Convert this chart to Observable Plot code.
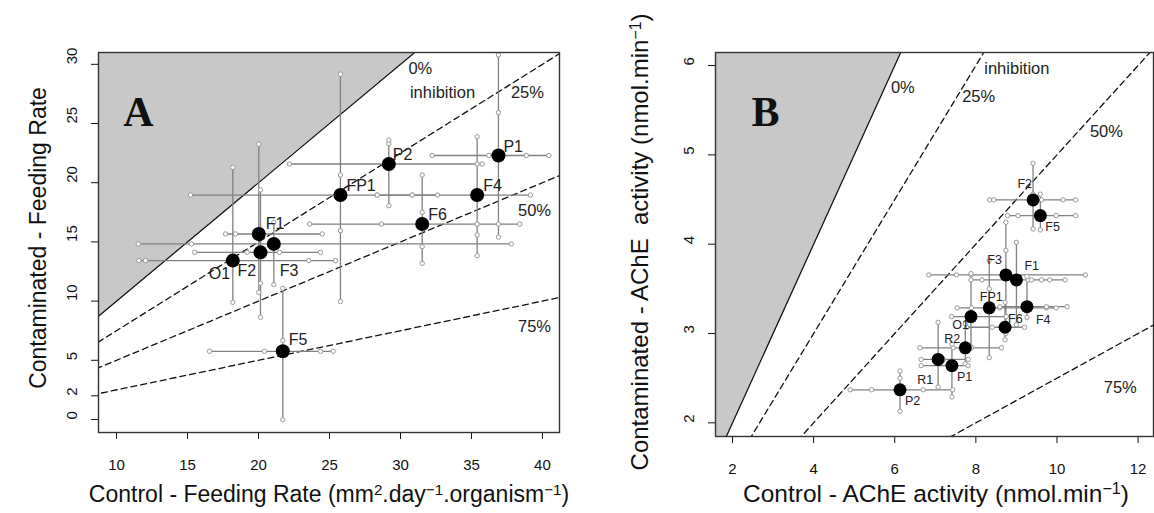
<!DOCTYPE html>
<html><head><meta charset="utf-8">
<script src="https://cdn.jsdelivr.net/npm/d3@7"></script>
<script src="https://cdn.jsdelivr.net/npm/@observablehq/plot@0.6"></script>
<style>
body{margin:0;background:#fff;}
#wrap{position:relative;width:1154px;height:513px;overflow:hidden;font-family:"Liberation Sans",Arial,sans-serif;color:#111;}
.panel{position:absolute;top:0;}
.t{position:absolute;white-space:nowrap;transform:translate(-50%,-50%);line-height:1;}
.t.rot{transform:translate(-50%,-50%) rotate(-90deg);}
sup{font-size:0.66em;vertical-align:0.45em;line-height:0;}
</style></head><body><div id="wrap"></div>
<script>
// ---------- Panel A : feeding rate ----------
const labelsA = ["P1","P2","FP1","F4","F6","F1","F3","F2","O1","F5"];
const controlA = [36.9, 29.18, 25.77, 35.4, 31.53, 20.02, 21.08, 20.14, 18.19, 21.71];
const contamA  = [22.3, 21.58, 18.96, 18.96, 16.51, 15.67, 14.83, 14.12, 13.42, 5.76];
const controlRepsA = [
  [32.23, 36.22, 38.87, 40.45],
  [22.18, 35.4, 35.75],
  [15.21, 28.36, 30.82, 32.6],
  [28.36, 30.82, 39.15],
  [23.6, 28.66, 35.4, 36.9, 38.4],
  [17.68, 18.38, 24.49],
  [11.53, 15.28, 37.8],
  [15.51, 19.2, 21.48, 24.37],
  [11.57, 12.04, 23.54, 25.42],
  [16.55, 20.42, 24.37, 25.26]
];
const contamRepsA = [
  [15.4, 25.93, 30.8],
  [18.06, 23.3, 23.6],
  [9.96, 15.95, 20.65, 29.17],
  [13.84, 15.58, 16.5, 23.88],
  [13.19, 14.6, 17.5, 20.65],
  [10.74, 23.26],
  [11.39, 16.65],
  [8.63, 11.5, 19.4],
  [9.9, 21.3],
  [-0.03, 6.67, 11.08]
];
const xTicksA = [10, 15, 20, 25, 30, 35, 40];
const yTicksA = [0, 2, 5, 10, 15, 20, 25, 30];
const notesA = [
  {text: "0%", x: 31.4, y: 29.6},
  {text: "inhibition", x: 32.96, y: 27.6},
  {text: "25%", x: 38.94, y: 27.6},
  {text: "50%", x: 39.44, y: 17.64},
  {text: "75%", x: 39.44, y: 7.85}
];

// ---------- Panel B : AChE activity ----------
const labelsB = ["F2","F5","F3","F1","FP1","F4","O1","F6","R2","R1","P1","P2"];
const controlB = [9.41, 9.59, 8.74, 9.0, 8.33, 9.26, 7.88, 8.72, 7.74, 7.07, 7.41, 6.13];
const contamB  = [4.496, 4.32, 3.656, 3.6, 3.287, 3.30, 3.19, 3.07, 2.84, 2.71, 2.64, 2.37];
const controlRepsB = [
  [8.34, 8.44, 9.62, 10.15, 10.46],
  [8.78, 9.04, 9.98, 10.46],
  [6.84, 7.52, 7.88, 10.7],
  [7.88, 8.15, 9.29, 9.37, 9.62, 9.82, 10.2],
  [7.54, 7.89, 8.59, 9.74, 9.98],
  [8.59, 9.74, 10.25],
  [7.4, 8.75],
  [7.77, 8.4, 9.2],
  [6.62, 7.44, 7.89, 8.63],
  [6.65, 7.2, 7.81],
  [6.65, 7.81],
  [4.90, 5.43, 6.70, 7.43]
];
const contamRepsB = [
  [4.171, 4.56, 4.906],
  [4.16, 4.56],
  [3.0, 3.93, 4.245],
  [3.1, 4.02],
  [2.73, 3.5, 3.82],
  [3.18, 3.64],
  [2.85, 3.67],
  [2.93, 3.35],
  [2.66, 3.11],
  [2.40, 3.125],
  [2.29, 2.88],
  [2.13, 2.5, 2.58]
];
const xTicksB = [2, 4, 6, 8, 10, 12];
const yTicksB = [2, 3, 4, 5, 6];
const notesB = [
  {text: "0%", x: 6.2, y: 5.754},
  {text: "inhibition", x: 9.01, y: 5.966},
  {text: "25%", x: 8.07, y: 5.65},
  {text: "50%", x: 11.22, y: 5.26},
  {text: "75%", x: 11.56, y: 2.394}
];

const inhibitionLevels = [0, 0.25, 0.5, 0.75];

// label placement (pixel offsets, anchor) — presentation only
const placeA = {
  P1:[5,-9,"start"], P2:[4,-9,"start"], FP1:[6,-9,"start"], F4:[6,-9,"start"], F6:[6,-9,"start"],
  F1:[7,-10,"start"], F3:[6,27,"start"], F2:[-23,19,"start"], O1:[-24,13,"start"], F5:[6,-11,"start"]
};
const placeB = {
  F2:[-1,-16,"end"], F5:[5,11,"start"], F3:[-4,-15,"end"], F1:[8,-14,"start"], FP1:[2,-11,"middle"],
  F4:[9,13,"start"], O1:[-2,8,"end"], F6:[3,-8,"start"], R2:[-5,-9,"end"], R1:[-5,21,"end"],
  P1:[5,11,"start"], P2:[5,11,"start"]
};

function buildPanel(cfg) {
  const pts = cfg.labels.map((l, i) => ({label: l, x: cfg.control[i], y: cfg.contam[i], xr: cfg.controlReps[i], yr: cfg.contamReps[i]}));
  const hbars = pts.map(p => ({y: p.y, x1: d3.min(p.xr), x2: d3.max(p.xr)}));
  const vbars = pts.map(p => ({x: p.x, y1: d3.min(p.yr), y2: d3.max(p.yr)}));
  const reps = pts.flatMap(p => [...p.xr.map(v => ({x: v, y: p.y})), ...p.yr.map(v => ({x: p.x, y: v}))]);
  const span = [-100, 1000];
  const marks = [
    Plot.areaY(span, {x: d => d, y1: d => d, y2: () => 1000, fill: "#c8c8c8", clip: true}),
    ...inhibitionLevels.map(p => Plot.line(span, {x: d => d, y: d => d * (1 - p), stroke: "#111", strokeWidth: 1.3,
        strokeDasharray: p === 0 ? null : "6,4", clip: true})),
    Plot.ruleY(hbars, {y: "y", x1: "x1", x2: "x2", stroke: "#808080", strokeWidth: 1.3}),
    Plot.ruleX(vbars, {x: "x", y1: "y1", y2: "y2", stroke: "#808080", strokeWidth: 1.3}),
    Plot.dot(reps, {x: "x", y: "y", r: 2.2, stroke: "#999", fill: "white", strokeWidth: 1}),
    Plot.dot(pts, {x: "x", y: "y", r: cfg.dotR, fill: "black"}),
    ...pts.map(p => {
      const [dx, dy, anchor] = cfg.place[p.label];
      return Plot.text([p], {x: "x", y: "y", text: "label", dx, dy, textAnchor: anchor, fontSize: cfg.labelSize, fill: "#222"});
    }),
    Plot.text(cfg.notes, {x: "x", y: "y", text: "text", fontSize: 16.5, fill: "#222"}),
    Plot.text([cfg.letter], {frameAnchor: "top-left", dx: cfg.letterDx, dy: 44, text: d => d,
      fontSize: 42, fontWeight: "bold", fontFamily: "'Liberation Serif','Times New Roman',serif", textAnchor: "middle", fill: "#111"}),
    Plot.axisX({ticks: cfg.xTicks, tickSize: 7, tickPadding: 20, label: null, fontSize: 15}),
    Plot.axisY({ticks: cfg.yTicks, tickSize: 7, tickFormat: () => "", label: null}),
    Plot.text(cfg.yTicks, {y: d => d, text: d => String(d), frameAnchor: "left", dx: -26, rotate: -90, fontSize: 15, fill: "#111"}),
    Plot.frame({stroke: "#333", strokeWidth: 1.4})
  ];
  return Plot.plot({
    width: 577, height: 513,
    marginLeft: cfg.ml, marginRight: cfg.mr, marginTop: 52, marginBottom: cfg.mb,
    x: {domain: cfg.xDomain},
    y: {domain: cfg.yDomain},
    style: {fontFamily: "'Liberation Sans', Arial, sans-serif", fontSize: "15px", color: "#111", background: "white"},
    marks
  });
}

const wrap = document.getElementById("wrap");
const svgA = buildPanel({labels: labelsA, control: controlA, contam: contamA, controlReps: controlRepsA, contamReps: contamRepsA,
  xTicks: xTicksA, yTicks: yTicksA, notes: notesA, place: placeA, letter: "A", letterDx: 40,
  xDomain: [8.73, 41.2], yDomain: [-1.1, 31], ml: 98, mr: 18, mb: 81, dotR: 7, labelSize: 16});
const svgB = buildPanel({labels: labelsB, control: controlB, contam: contamB, controlReps: controlRepsB, contamReps: contamRepsB,
  xTicks: xTicksB, yTicks: yTicksB, notes: notesB, place: placeB, letter: "B", letterDx: 50,
  xDomain: [1.58, 12.38], yDomain: [1.847, 6.146], ml: 138, mr: 1, mb: 77, dotR: 6.5, labelSize: 12.5});
const dA = document.createElement("div"); dA.className = "panel"; dA.style.left = "0px"; dA.appendChild(svgA);
const dB = document.createElement("div"); dB.className = "panel"; dB.style.left = "577px"; dB.appendChild(svgB);
wrap.appendChild(dA); wrap.appendChild(dB);

const titles = [
  {html: "Control - Feeding Rate (mm<sup>2</sup>.day<sup>−1</sup>.organism<sup>−1</sup>)", x: 329, y: 494, rot: false, size: 23},
  {html: "Control - AChE activity (nmol.min<sup>−1</sup>)", x: 936, y: 494, rot: false, size: 24.5},
  {html: "Contaminated - Feeding Rate", x: 38, y: 238, rot: true, size: 23},
  {html: "Contaminated - AChE&nbsp; activity (nmol.min<sup>−1</sup>)", x: 640, y: 242, rot: true, size: 24}
];
for (const t of titles) {
  const el = document.createElement("div");
  el.className = "t" + (t.rot ? " rot" : "");
  el.style.left = t.x + "px"; el.style.top = t.y + "px"; el.style.fontSize = t.size + "px";
  el.innerHTML = t.html;
  wrap.appendChild(el);
}
</script></body></html>
